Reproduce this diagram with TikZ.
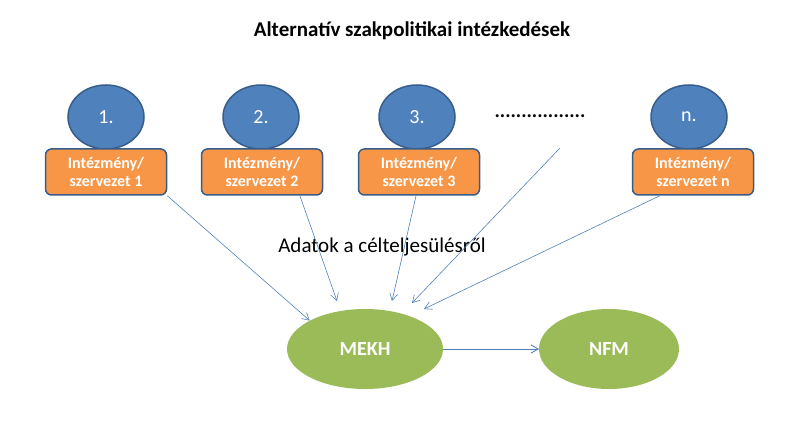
\documentclass[tikz,border=0pt]{standalone}
\usepackage{fontspec}
\setmainfont{Carlito}
\usetikzlibrary{arrows.meta}
\definecolor{eblue}{HTML}{4F81BD}
\definecolor{edge}{HTML}{385D8A}
\definecolor{eorange}{HTML}{F79646}
\definecolor{egreen}{HTML}{9BBB59}
\tikzset{
 num/.style={ellipse,draw=edge,line width=1.5pt,fill=eblue,minimum width=76pt,minimum height=64pt,text=white,font=\fontsize{20}{22}\selectfont},
 org/.style={rectangle,rounded corners=6pt,draw=edge,line width=1.5pt,fill=eorange,minimum width=121pt,minimum height=46pt,text=white,align=center,font=\fontsize{16}{18}\selectfont\bfseries},
 big/.style={ellipse,fill=egreen,text=white,font=\fontsize{20}{22}\selectfont\bfseries},
 conn/.style={draw=eblue,line width=0.6pt,-{Straight Barb[length=7pt,width=8pt]}}
}
\usepackage{pgf}
\usetikzlibrary{shapes.geometric}
\begin{document}
\begin{tikzpicture}[x=1pt,y=-1pt]
\useasboundingbox (0,0) rectangle (804,433);
\node[font=\fontsize{21}{24}\selectfont\bfseries] (title) at (412,31) {Alternatív szakpolitikai intézkedések};
\node[num] (e1) at (106,117) {1.};
\node[num] (e2) at (261,117) {2.};
\node[num] (e3) at (417,117) {3.};
\node[num] (en) at (689,117) {n.};
\node[font=\fontsize{20}{22}\selectfont\bfseries] (dots) at (540,116) {.................};
\node[org] (b1) at (106,172) {Intézmény/\\szervezet 1};
\node[org] (b2) at (262,172) {Intézmény/\\szervezet 2};
\node[org] (b3) at (419,172) {Intézmény/\\szervezet 3};
\node[org] (bn) at (693,172) {Intézmény/\\szervezet n};
\node[font=\fontsize{21}{24}\selectfont] (lbl) at (382,247) {Adatok a célteljesülésről};
\node[big,minimum width=156pt,minimum height=80pt] (mekh) at (365,349) {MEKH};
\node[big,minimum width=140pt,minimum height=80pt] (nfm) at (609,349) {NFM};
\coordinate (d) at (560,148);
\draw[conn] (b1.south east) ++(0,0) -- (mekh.north west);
\draw[conn] (300,196) -- (337,301);
\draw[conn] (416,196) -- (392,301);
\draw[conn] (d) -- (412,303);
\draw[conn] (bn.south west) ++(28,0) -- (424,309);
\draw[conn] (mekh) -- (nfm);
\draw[conn] (mekh.east) -- (nfm.west);
\end{tikzpicture}
\end{document}
